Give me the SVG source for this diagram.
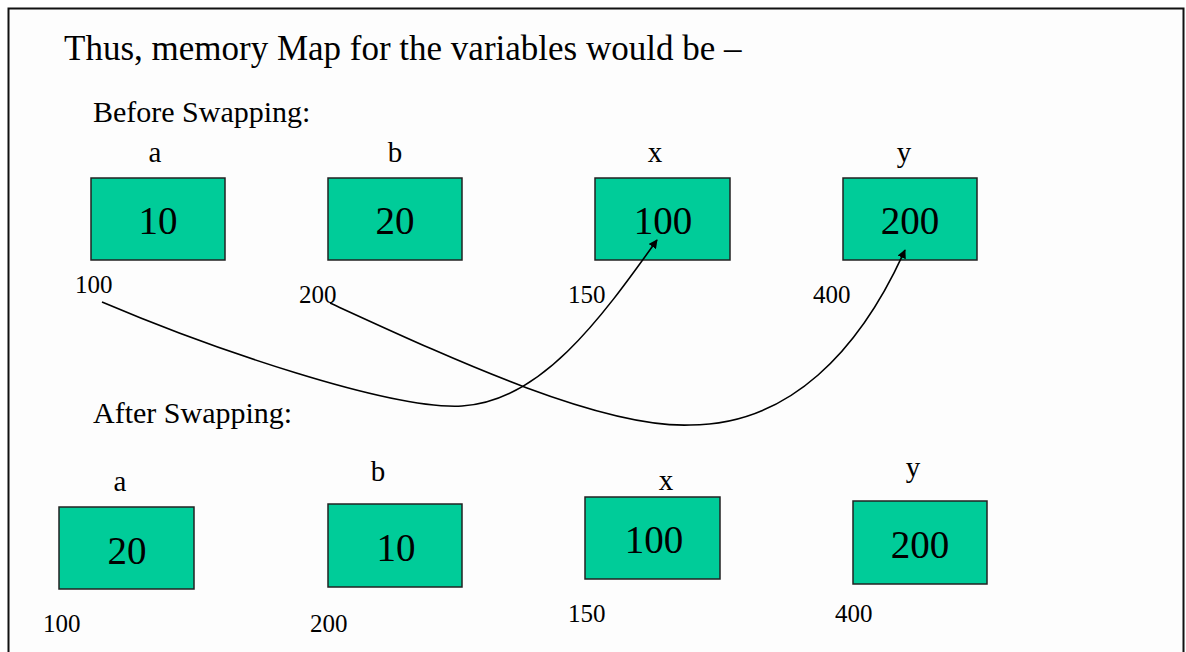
<svg xmlns="http://www.w3.org/2000/svg" width="1186" height="652" viewBox="0 0 1186 652">
<style>
text{font-family:"Liberation Serif","Times New Roman",serif;fill:#000}
.title{font-size:35px}
.sub{font-size:30px}
.var{font-size:29px;text-anchor:middle}
.val{font-size:39px;text-anchor:middle}
.addr{font-size:25px}
.box{fill:#00CC99;stroke:#222;stroke-width:1.5}
.conn{fill:none;stroke:#000;stroke-width:1.6}
</style>
<defs>
<marker id="arr" viewBox="0 0 10 10" refX="9" refY="5" markerWidth="9" markerHeight="9" markerUnits="userSpaceOnUse" orient="auto">
<path d="M0,0 L10,5 L0,10 Z" fill="#000"/>
</marker>
</defs>
<rect x="0" y="0" width="1186" height="652" fill="#fff"/>
<rect x="8.5" y="8.5" width="1175" height="700" fill="#fdfdfd" stroke="#111" stroke-width="2"/>
<text class="title" x="64" y="60">Thus, memory Map for the variables would be –</text>
<text class="sub" x="93" y="122">Before Swapping:</text>
<text class="sub" x="93" y="423">After Swapping:</text>

<g id="before-a">
<text class="var" x="155" y="162">a</text>
<rect class="box" x="91" y="178" width="134" height="82"/>
<text class="val" x="158" y="234">10</text>
<text class="addr" x="75" y="293">100</text>
</g>
<g id="before-b">
<text class="var" x="395" y="162">b</text>
<rect class="box" x="328" y="178" width="134" height="82"/>
<text class="val" x="395" y="234">20</text>
<text class="addr" x="299" y="303">200</text>
</g>
<g id="before-x">
<text class="var" x="655" y="162">x</text>
<rect class="box" x="595" y="178" width="135" height="82"/>
<text class="val" x="663" y="234">100</text>
<text class="addr" x="568" y="303">150</text>
</g>
<g id="before-y">
<text class="var" x="904" y="162">y</text>
<rect class="box" x="843" y="178" width="134" height="82"/>
<text class="val" x="910" y="234">200</text>
<text class="addr" x="813" y="303">400</text>
</g>

<g id="after-a">
<text class="var" x="120" y="491">a</text>
<rect class="box" x="59" y="507" width="135" height="82"/>
<text class="val" x="127" y="564">20</text>
<text class="addr" x="43" y="632">100</text>
</g>
<g id="after-b">
<text class="var" x="378" y="481">b</text>
<rect class="box" x="328" y="504" width="134" height="83"/>
<text class="val" x="396" y="561">10</text>
<text class="addr" x="310" y="632">200</text>
</g>
<g id="after-x">
<text class="var" x="666" y="490">x</text>
<rect class="box" x="585" y="497" width="135" height="82"/>
<text class="val" x="654" y="553">100</text>
<text class="addr" x="568" y="622">150</text>
</g>
<g id="after-y">
<text class="var" x="913" y="477">y</text>
<rect class="box" x="853" y="501" width="134" height="83"/>
<text class="val" x="920" y="558">200</text>
<text class="addr" x="835" y="622">400</text>
</g>

<g id="connectors">
<path class="conn" d="M102,302 C210,348 390,410 462,406 C540,402 600,320 657,240" marker-end="url(#arr)"/>
<path class="conn" d="M330,303 C450,358 600,428 690,425 C790,425 860,350 905,250" marker-end="url(#arr)"/>
</g>
</svg>
